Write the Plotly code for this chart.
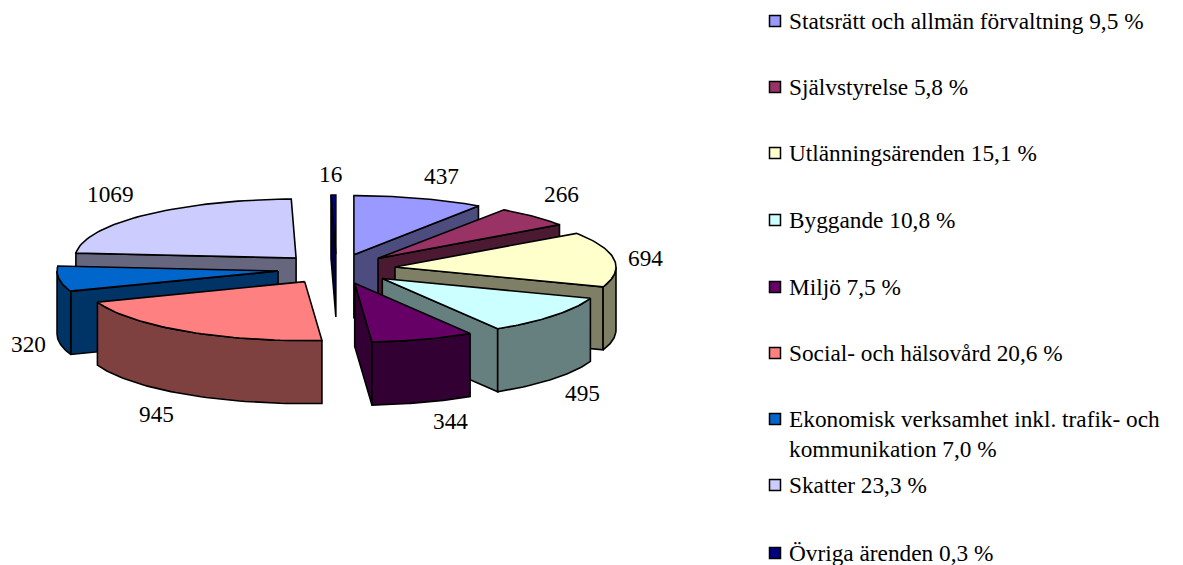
import math
import plotly.graph_objects as go

# ---- data ----
categories = ["Statsrätt och allmän förvaltning 9,5 %", "Självstyrelse 5,8 %", "Utlänningsärenden 15,1 %",
              "Byggande 10,8 %", "Miljö 7,5 %", "Social- och hälsovård 20,6 %",
              "Ekonomisk verksamhet inkl. trafik- och<br>kommunikation 7,0 %", "Skatter 23,3 %", "Övriga ärenden 0,3 %"]
values = [437, 266, 694, 495, 344, 945, 320, 1069, 16]
top_colors = ["#9999FF", "#993366", "#FFFFCC", "#CCFFFF", "#660066", "#FF8080", "#0066CC", "#CCCCFF", "#000080"]

# ---- projection of the tilted, exploded pie (pixel-like axes) ----
CX, CY = 336.5, 269    # pie centre
A, B = 221, 59         # ellipse radii
PX, PY = 59, 15        # explosion distance
H = 63                 # pie thickness
FONT = "Liberation Serif"
FS = 23.3

label_xy = [(441, 176), (561, 194), (645, 258), (582, 393), (450, 421), (156, 414), (28, 344), (110, 194), (330, 174)]
legend_x, legend_text_x = 775, 787
legend_y = [21, 87, 153, 220, 287, 353, 419, 485, 553]


def dark(c):
    r, g, b = int(c[1:3], 16), int(c[3:5], 16), int(c[5:7], 16)
    return f"rgb({r//2},{g//2},{b//2})"


def arc(ax, ay, a0, a1, n=48, dz=0):
    out = []
    for i in range(n + 1):
        t = math.radians(a0 + (a1 - a0) * i / n)
        out.append((ax + A * math.sin(t), ay - B * math.cos(t) + dz))
    return out


def poly(points, fill, name):
    xs = [p[0] for p in points] + [points[0][0]]
    ys = [p[1] for p in points] + [points[0][1]]
    return go.Scatter(x=xs, y=ys, mode="lines", fill="toself", fillcolor=fill, name=name,
                      line=dict(color="black", width=1.6), hoverinfo="name", showlegend=False)


total = sum(values)
slices = []
acc = 0
for i, v in enumerate(values):
    s = acc / total * 360
    acc += v
    e = acc / total * 360
    slices.append((i, s, e, (s + e) / 2))

fig = go.Figure()
for i, s, e, m in sorted(slices, key=lambda q: -math.cos(math.radians(q[3]))):
    ax = CX + PX * math.sin(math.radians(m))
    ay = CY - PY * math.cos(math.radians(m))
    side = dark(top_colors[i])
    name = categories[i]
    # radial cut faces
    if math.sin(math.radians(s)) < 0:
        o = arc(ax, ay, s, s, 1)[0]
        fig.add_trace(poly([(ax, ay), o, (o[0], o[1] + H), (ax, ay + H)], side, name))
    if math.sin(math.radians(e)) > 0:
        o = arc(ax, ay, e, e, 1)[0]
        fig.add_trace(poly([(ax, ay), o, (o[0], o[1] + H), (ax, ay + H)], side, name))
    # outer wall
    w0, w1 = max(s, 90), min(e, 270)
    if w1 > w0:
        top = arc(ax, ay, w0, w1)
        bottom = arc(ax, ay, w0, w1, dz=H)
        fig.add_trace(poly(top + bottom[::-1], side, name))
    # top face
    fig.add_trace(poly([(ax, ay)] + arc(ax, ay, s, e), top_colors[i], name))

# legend swatches
fig.add_trace(go.Scatter(x=[legend_x] * len(legend_y), y=legend_y, mode="markers",
                         marker=dict(symbol="square", size=11, color=top_colors, line=dict(color="black", width=1.5)),
                         hoverinfo="skip", showlegend=False))

ann = []
for v, (x, y) in zip(values, label_xy):
    ann.append(dict(x=x, y=y, text=str(v), showarrow=False, xanchor="center", yanchor="middle",
                    font=dict(family=FONT, size=FS, color="black")))
for c, y in zip(categories, legend_y):
    ann.append(dict(x=legend_text_x, y=y - 15, text=c, showarrow=False, xanchor="left", yanchor="top", align="left",
                    font=dict(family=FONT, size=FS, color="black")))

fig.update_layout(
    width=1183, height=565, margin=dict(l=0, r=0, t=0, b=0), autosize=False,
    paper_bgcolor="white", plot_bgcolor="white", showlegend=False, annotations=ann,
    xaxis=dict(range=[0, 1183], visible=False, fixedrange=True),
    yaxis=dict(range=[565, 0], visible=False, fixedrange=True),
)
fig.write_html("out.html", config=dict(displayModeBar=False),
               post_script="document.body.style.margin='0';document.body.style.overflow='hidden';")
